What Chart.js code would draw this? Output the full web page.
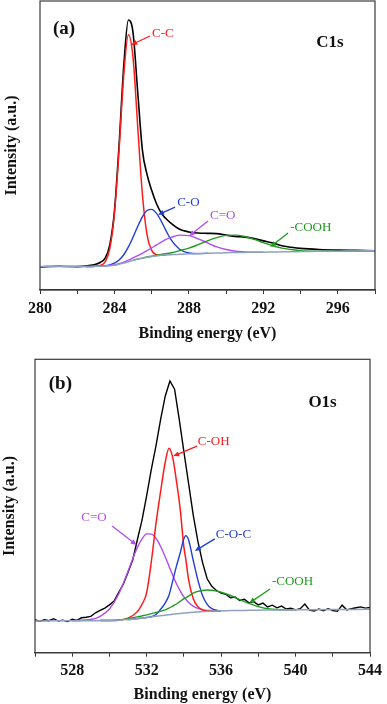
<!DOCTYPE html>
<html>
<head>
<meta charset="utf-8">
<script src="https://cdn.jsdelivr.net/npm/chart.js@4.4.1/dist/chart.umd.min.js"></script>
<style>
  html, body { margin: 0; padding: 0; background: #fff; }
  #wrap { position: relative; width: 387px; height: 704px; }
  #chart-c1s { position: absolute; left: 0; top: 0; }
  #chart-o1s { position: absolute; left: 0; top: 352px; }
</style>
</head>
<body>
<div id="wrap">
  <canvas id="chart-c1s" width="387" height="352"></canvas>
  <canvas id="chart-o1s" width="387" height="352"></canvas>
</div>
<script>
/**
 * XPS C1s and O1s spectra with fitted components
 */

// ---- C1s panel (a) ----
const c1sEnergy = [280, 281, 282, 282.5, 283, 283.25, 283.5, 283.75, 284, 284.25, 284.5, 284.75, 285, 285.25, 285.5, 285.75, 286, 286.25, 286.5, 286.75, 287, 287.5, 288, 288.5, 289, 289.5, 290, 290.5, 291, 291.5, 292, 292.5, 293, 293.5, 294, 295, 296, 297, 298]
const c1sTotal = [8.0, 8.2, 8.1, 8.4, 8.9, 9.6, 11.0, 15.6, 27.3, 50.3, 77.5, 93.4, 89.0, 68.5, 48.5, 40.0, 34.5, 30.0, 26.8, 24.8, 23.3, 21.0, 20.1, 19.7, 19.6, 19.5, 19.0, 18.5, 18.3, 17.8, 17.0, 16.3, 15.3, 14.8, 14.4, 14.0, 13.8, 13.7, 13.6]
const c1sCC = [null, null, 8.1, 8.1, 8.2, 8.5, 9.7, 14.3, 26.5, 48.6, 74.3, 88.3, 80.3, 56.6, 33.2, 19.2, 13.7, 12.2, 12.0, 12.1, null, null, null, null, null, null, null, null, null, null, null, null, null, null, null, null, null, null, null]
const c1sCO = [null, null, null, 8.1, 8.2, 8.3, 8.4, 8.7, 9.3, 10.4, 12.2, 14.9, 18.3, 22.0, 25.3, 27.5, 27.9, 26.6, 24.0, 20.8, 17.8, 14.1, 12.8, 12.6, 12.7, null, null, null, null, null, null, null, null, null, null, null, null, null, null]
const c1sCdO = [null, null, null, null, 8.2, 8.2, 8.4, 8.5, 8.7, 9.1, 9.6, 10.3, 11.1, 11.9, 12.7, 13.6, 14.6, 15.5, 16.5, 17.4, 18.1, 19.0, 18.8, 17.7, 16.3, 14.9, 14.0, 13.4, 13.2, 13.1, 13.1, null, null, null, null, null, null, null, null]
const c1sCOOH = [null, null, null, null, null, null, null, null, null, null, null, null, 10.3, 10.7, 11.05, 11.4, 11.7, 12.0, 12.3, 12.55, 12.8, 13.6, 14.5, 15.7, 17.0, 18.1, 18.9, 19.0, 18.5, 17.5, 16.4, 15.3, 14.5, 14.0, 13.6, 13.4, 13.45, 13.5, 13.6]
const c1sBackground = [8.1, 8.1, 8.1, 8.1, 8.2, 8.2, 8.3, 8.4, 8.6, 8.9, 9.3, 9.8, 10.3, 10.7, 11.0, 11.3, 11.6, 11.8, 12.0, 12.1, 12.2, 12.4, 12.5, 12.6, 12.7, 12.8, 12.9, 12.95, 13.0, 13.05, 13.1, 13.15, 13.2, 13.25, 13.3, 13.4, 13.45, 13.5, 13.6]

// ---- O1s panel (b) ----
const o1sEnergy = [526, 527, 528, 529, 529.5, 530, 530.5, 531, 531.5, 531.75, 532, 532.25, 532.5, 532.75, 533, 533.2, 533.4, 533.6, 533.8, 534, 534.1, 534.25, 534.5, 534.75, 535, 535.25, 535.5, 535.75, 536, 536.5, 537, 537.5, 538, 538.5, 539, 539.5, 540, 541, 542, 543, 544]
const o1sCOH = [null, null, null, null, 10.95, 11.0, 11.1, 11.8, 14.0, 16.5, 20.5, 31.0, 44.0, 55.0, 65.0, 69.7, 66.5, 58.5, 49.0, 36.0, 32.0, 25.0, 18.5, 15.7, 14.6, 14.3, 14.25, 14.25, 14.3, null, null, null, null, null, null, null, null, null, null, null, null]
const o1sCOC = [null, null, null, null, null, null, null, 11.3, 11.6, 11.8, 12.0, 12.3, 13.0, 14.8, 17.0, 19.6, 24.5, 29.5, 34.0, 38.8, 39.9, 38.5, 31.5, 24.8, 19.5, 16.5, 15.0, 14.5, 14.3, null, null, null, null, null, null, null, null, null, null, null, null]
const o1sCdO = [null, null, 10.9, 11.3, 12.4, 14.9, 20.0, 27.8, 35.9, 38.8, 40.5, 40.4, 39.0, 36.2, 32.6, 29.5, 26.4, 23.5, 21.1, 19.0, 18.2, 17.1, 15.9, 15.1, 14.6, 14.4, 14.35, 14.3, 14.3, null, null, null, null, null, null, null, null, null, null, null, null]
const o1sCOOH = [null, null, null, null, 10.95, 11.0, 11.2, 11.6, 12.2, 12.55, 12.9, 13.3, 13.7, 14.1, 14.6, 15.2, 15.9, 16.6, 17.5, 18.4, 18.7, 19.3, 20.3, 20.9, 21.2, 21.35, 21.3, 21.0, 20.6, 19.5, 18.1, 16.8, 15.7, 15.0, 14.7, 14.6, 14.6, null, null, null, null]
const o1sBackground = [10.8, 10.85, 10.9, 10.9, 10.95, 11.0, 11.1, 11.3, 11.6, 11.8, 12.0, 12.2, 12.4, 12.6, 12.8, 12.95, 13.1, 13.25, 13.4, 13.5, 13.55, 13.65, 13.8, 13.9, 14.0, 14.1, 14.2, 14.25, 14.3, 14.35, 14.4, 14.45, 14.5, 14.52, 14.55, 14.57, 14.6, 14.65, 14.7, 14.75, 14.8]
// measured O1s spectrum, finer steps
const o1sTotalEnergy = [526, 526.25, 526.5, 526.75, 527, 527.25, 527.5, 527.75, 528, 528.25, 528.5, 528.75, 529, 529.25, 529.5, 529.75, 530, 530.25, 530.5, 530.75, 531, 531.25, 531.5, 531.75, 532, 532.25, 532.5, 532.75, 533, 533.25, 533.5, 533.75, 534, 534.25, 534.5, 534.75, 535, 535.25, 535.5, 535.75, 536, 536.25, 536.5, 536.75, 537, 537.25, 537.5, 537.75, 538, 538.25, 538.5, 538.75, 539, 539.25, 539.5, 539.75, 540, 540.25, 540.5, 540.75, 541, 541.25, 541.5, 541.75, 542, 542.25, 542.5, 542.75, 543, 543.25, 543.5, 543.75, 544]
const o1sTotal = [11.3, 10.7, 11.2, 10.9, 11.6, 10.8, 11.1, 10.6, 11.4, 11.0, 11.9, 12.1, 12.4, 13.6, 14.4, 15.2, 16.3, 17.6, 20.6, 23.4, 27.4, 31.6, 38.5, 45.2, 53.5, 62.5, 70.5, 79.5, 87.5, 92.6, 89.8, 79.5, 68.5, 57.8, 47.0, 38.0, 30.8, 25.2, 22.6, 21.2, 20.3, 19.9, 18.7, 19.0, 17.8, 18.2, 17.0, 17.4, 16.3, 16.9, 15.6, 16.2, 15.3, 15.9, 14.9, 15.2, 14.6, 15.0, 16.6, 14.5, 14.2, 14.9, 14.3, 15.0, 14.4, 14.1, 16.2, 14.6, 15.0, 15.3, 15.6, 15.2, 15.4]

const COLORS = {
    total: "#000000",
    red: "#ff1a1a",
    blue: "#1f3fd6",
    purple: "#b04cf0",
    green: "#1f9a1f",
    background: "#8fa1c2",
}
const FONT = "'Liberation Serif', 'Times New Roman', serif"

/**
 * Pair energies with values, dropping empty points
 */
function points(energies, values) {
    return energies
        .map((x, i) => ({x: x, y: values[i]}))
        .filter((p) => p.y !== null)
}

function line(data, color, width, tension) {
    return {
        data: data,
        borderColor: color,
        borderWidth: width,
        pointRadius: 0,
        fill: false,
        tension: tension,
        cubicInterpolationMode: tension ? "monotone" : "default",
    }
}

/**
 * Panel letter, peak names and arrows, placed in data units
 */
function notesPlugin(notes) {
    return {
        id: "notes",
        afterDatasetsDraw(chart) {
            const {ctx, scales: {x, y}} = chart
            ctx.save()
            for (const n of notes) {
                ctx.font = n.font
                ctx.fillStyle = n.color
                ctx.textBaseline = "middle"
                ctx.textAlign = "left"
                ctx.fillText(n.text, x.getPixelForValue(n.x), y.getPixelForValue(n.y))
                if (n.arrow) {
                    const x0 = x.getPixelForValue(n.arrow[0]), y0 = y.getPixelForValue(n.arrow[1])
                    const x1 = x.getPixelForValue(n.arrow[2]), y1 = y.getPixelForValue(n.arrow[3])
                    const ang = Math.atan2(y1 - y0, x1 - x0)
                    ctx.strokeStyle = n.color
                    ctx.lineWidth = 1.3
                    ctx.beginPath()
                    ctx.moveTo(x0, y0)
                    ctx.lineTo(x1 - 4 * Math.cos(ang), y1 - 4 * Math.sin(ang))
                    ctx.stroke()
                    ctx.beginPath()
                    ctx.moveTo(x1, y1)
                    ctx.lineTo(x1 - 6 * Math.cos(ang) + 2.6 * Math.sin(ang), y1 - 6 * Math.sin(ang) - 2.6 * Math.cos(ang))
                    ctx.lineTo(x1 - 6 * Math.cos(ang) - 2.6 * Math.sin(ang), y1 - 6 * Math.sin(ang) + 2.6 * Math.cos(ang))
                    ctx.closePath()
                    ctx.fill()
                }
            }
            ctx.restore()
        },
    }
}

const framePlugin = {
    id: "frame",
    afterDraw(chart) {
        const {ctx, chartArea: a} = chart
        ctx.save()
        ctx.strokeStyle = "#3a3a3a"
        ctx.lineWidth = 1.2
        ctx.strokeRect(a.left, a.top, a.right - a.left, a.bottom - a.top)
        ctx.restore()
    },
}

/**
 * Build one spectrum panel
 */
function panel(canvasId, opts) {
    new Chart(document.getElementById(canvasId), {
        type: "line",
        data: {datasets: opts.datasets},
        options: {
            responsive: false,
            animation: false,
            devicePixelRatio: 1,
            layout: {padding: opts.padding},
            plugins: {legend: {display: false}, tooltip: {enabled: false}},
            scales: {
                x: {
                    type: "linear",
                    min: opts.xMin,
                    max: opts.xMax,
                    afterFit: (scale) => { scale.height = opts.xHeight },
                    ticks: {
                        stepSize: 2,
                        autoSkip: false,
                        maxRotation: 0,
                        padding: 5,
                        color: "#111",
                        font: {family: FONT, size: 16, weight: "bold"},
                        callback: (v) => (v % 4 === 0 ? String(v) : ""),
                    },
                    grid: {drawOnChartArea: false, drawTicks: true, tickLength: 4, color: "#333"},
                    border: {display: true, color: "#333", width: 1.2},
                    title: {
                        display: true,
                        text: "Binding energy (eV)",
                        color: "#111",
                        font: {family: FONT, size: 16, weight: "bold"},
                        padding: {top: 0, bottom: opts.xTitlePad},
                    },
                },
                y: {
                    min: 0,
                    max: 100,
                    afterFit: (scale) => { scale.width = opts.yWidth },
                    ticks: {display: false},
                    grid: {display: false},
                    border: {display: false},
                    title: {
                        display: true,
                        text: "Intensity (a.u.)",
                        color: "#111",
                        font: {family: FONT, size: 16, weight: "bold"},
                        padding: {top: opts.yTitlePad, bottom: 0},
                    },
                },
            },
        },
        plugins: [framePlugin, notesPlugin(opts.notes)],
    })
}

const labelFont = `13px ${FONT}`

panel("chart-c1s", {
    xMin: 280, xMax: 298, xHeight: 62, xTitlePad: 9, yWidth: 40, yTitlePad: 2,
    padding: {top: 1, right: 12, bottom: 0, left: 0},
    datasets: [
        line(points(c1sEnergy, c1sBackground), COLORS.background, 1.5, 0.4),
        line(points(c1sEnergy, c1sCOOH), COLORS.green, 1.4, 0.4),
        line(points(c1sEnergy, c1sCdO), COLORS.purple, 1.4, 0.4),
        line(points(c1sEnergy, c1sCO), COLORS.blue, 1.4, 0.4),
        line(points(c1sEnergy, c1sCC), COLORS.red, 1.5, 0.4),
        line(points(c1sEnergy, c1sTotal), COLORS.total, 1.6, 0.4),
    ],
    notes: [
        {text: "(a)", x: 280.7, y: 90.3, color: "#111", font: `bold 19px ${FONT}`},
        {text: "C1s", x: 294.84, y: 85.5, color: "#111", font: `bold 17px ${FONT}`},
        {text: "C-C", x: 286.02, y: 88.6, color: COLORS.red, font: labelFont, arrow: [285.91, 87.9, 284.89, 84.8]},
        {text: "C-O", x: 287.37, y: 30.1, color: COLORS.blue, font: labelFont, arrow: [287.26, 28.7, 286.34, 26.0]},
        {text: "C=O", x: 289.14, y: 25.6, color: COLORS.purple, font: labelFont, arrow: [289.03, 23.9, 288.01, 18.7]},
        {text: "-COOH", x: 293.44, y: 21.5, color: COLORS.green, font: labelFont, arrow: [293.33, 19.7, 292.37, 14.9]},
    ],
})

panel("chart-o1s", {
    xMin: 526, xMax: 544, xHeight: 51.3, xTitlePad: 0, yWidth: 35, yTitlePad: 0,
    padding: {top: 7.3, right: 13, bottom: 0, left: 0},
    datasets: [
        line(points(o1sEnergy, o1sBackground), COLORS.background, 1.5, 0.4),
        line(points(o1sEnergy, o1sCOOH), COLORS.green, 1.4, 0.4),
        line(points(o1sEnergy, o1sCOC), COLORS.blue, 1.4, 0.4),
        line(points(o1sEnergy, o1sCOH), COLORS.red, 1.5, 0.4),
        line(points(o1sEnergy, o1sCdO), COLORS.purple, 1.4, 0.4),
        line(points(o1sTotalEnergy, o1sTotal), COLORS.total, 1.4, 0),
    ],
    notes: [
        {text: "(b)", x: 526.74, y: 91.6, color: "#111", font: `bold 19px ${FONT}`},
        {text: "O1s", x: 540.69, y: 85.4, color: "#111", font: `bold 17px ${FONT}`},
        {text: "C-OH", x: 534.75, y: 72.1, color: COLORS.red, font: labelFont, arrow: [534.7, 70.4, 533.43, 67.0]},
        {text: "C-O-C", x: 535.71, y: 40.1, color: COLORS.blue, font: labelFont, arrow: [535.66, 38.8, 534.59, 34.7]},
        {text: "C=O", x: 528.49, y: 45.9, color: COLORS.purple, font: labelFont, arrow: [530.14, 43.2, 531.46, 36.7]},
        {text: "-COOH", x: 538.73, y: 24.1, color: COLORS.green, font: labelFont, arrow: [538.63, 21.7, 537.51, 16.9]},
    ],
})
</script>
</body>
</html>
